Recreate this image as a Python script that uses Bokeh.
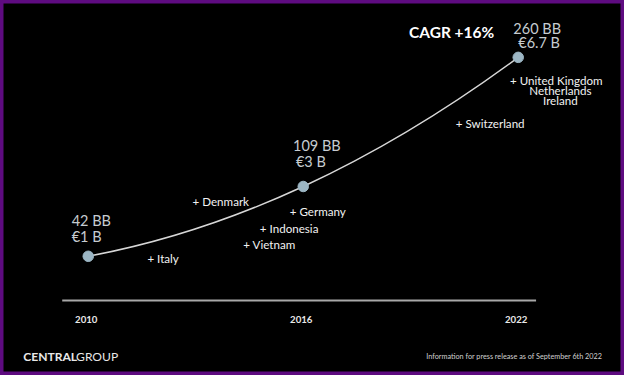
from bokeh.plotting import figure
from bokeh.models import Range1d, Label
from bokeh.core.properties import value
from bokeh.embed import file_html
from bokeh.resources import INLINE

# ---- data ----
years = [2010, 2016, 2022]
visitors_bb = [42, 109, 260]          # billion baht
revenue_eur_b = [1, 3, 6.7]           # euro billions
bb_labels = ["42 BB", "109 BB", "260 BB"]
eur_labels = ["€1 B", "€3 B", "€6.7 B"]
year_labels = ["2010", "2016", "2022"]
cagr_text = "CAGR +16%"
country_text = ["+ Italy", "+ Denmark", "+ Vietnam", "+ Indonesia", "+ Germany",
                "+ Switzerland", "+ United Kingdom", "Netherlands", "Ireland"]
brand_bold = "CENTRAL"
brand_light = "GROUP"
footnote = "Information for press release as of September 6th 2022"

# ---- layout: positions below are given in a 640x391 design grid ----
W, H = 624, 375
DW, DH = 640, 391
K = (W / DW + H / DH) / 2          # font scale
PX_PER_YEAR = 36.75                 # design px per year
X2010 = 90.0                        # design x of 2010
PX_PER_B = 36.39                    # design px per euro billion
Y1B = 266.7                         # design y of 1 B

x_start = 2010 - X2010 / PX_PER_YEAR
x_end = x_start + DW / PX_PER_YEAR
y_end = 1 + Y1B / PX_PER_B
y_start = y_end - DH / PX_PER_B


def X(px):
    return x_start + px / PX_PER_YEAR


def Y(py):
    return y_end - py / PX_PER_B


def fs(px):
    return f"{px * K:.2f}px"


p = figure(width=W, height=H, x_range=Range1d(x_start, x_end), y_range=Range1d(y_start, y_end),
           output_backend="svg", toolbar_location=None, min_border=0,
           x_axis_type=None, y_axis_type=None,
           background_fill_color="black", border_fill_color="black")
p.grid.visible = False
p.outline_line_color = "#5e0b80"
p.outline_line_width = 6

FONT = "Lato"

# smooth connector through the data points (Catmull-Rom style bezier)
P = list(zip(years, revenue_eur_b))
T1 = ((P[2][0] - P[0][0]) / 2, (P[2][1] - P[0][1]) / 2)
T0 = (2 * (P[1][0] - P[0][0]) - T1[0], 2 * (P[1][1] - P[0][1]) - T1[1])
T2 = (2 * (P[2][0] - P[1][0]) - T1[0], 2 * (P[2][1] - P[1][1]) - T1[1])
tang = [T0, T1, T2]
bx0, by0, bx1, by1, bcx0, bcy0, bcx1, bcy1 = [], [], [], [], [], [], [], []
for i in range(2):
    a, b = P[i], P[i + 1]
    ta, tb = tang[i], tang[i + 1]
    bx0.append(a[0]); by0.append(a[1]); bx1.append(b[0]); by1.append(b[1])
    bcx0.append(a[0] + ta[0] / 3); bcy0.append(a[1] + ta[1] / 3)
    bcx1.append(b[0] - tb[0] / 3); bcy1.append(b[1] - tb[1] / 3)
p.bezier(x0=bx0, y0=by0, x1=bx1, y1=by1, cx0=bcx0, cy0=bcy0, cx1=bcx1, cy1=bcy1,
         line_color="#d6d6d6", line_width=1.5)

p.scatter(years, revenue_eur_b, size=10.5, fill_color="#9cb6c4", line_color="#9cb6c4")

# baseline axis
p.segment(x0=[X(63.3)], y0=[Y(312.7)], x1=[X(549.3)], y1=[Y(312.7)], line_color="#a8a8a8", line_width=2)
p.text(x=years, y=[Y(332.3)] * 3, text=year_labels, text_align="center", text_baseline="alphabetic",
       text_font=value(FONT), text_font_style="bold", text_font_size=fs(10), text_color="#e8e8e8",
       x_offset=-2)


def lab(text, x, y, size, color, align="left", style="normal"):
    p.add_layout(Label(x=X(x), y=Y(y), text=text, text_font=FONT, text_font_size=fs(size),
                       text_color=color, text_align=align, text_baseline="alphabetic",
                       text_font_style=style))


GREY = "#c6ccd0"
WHITE = "#f2f2f2"
# value labels
bb_pos = [(73, 229.3), (300, 151.7), (526, 29)]
eur_pos = [(73, 246), (303, 168), (531, 44)]
for t, (x, y) in zip(bb_labels, bb_pos):
    lab(t, x, y, 15, GREY)
for t, (x, y) in zip(eur_labels, eur_pos):
    lab(t, x, y, 15, GREY)

lab(cagr_text, 419, 33, 16, "white", style="bold")

country_pos = [(150.7, 269.5, "left"), (197, 209.5, "left"), (249, 254.5, "left"),
               (266, 237.5, "left"), (296.7, 220.5, "left"), (467, 128, "left"),
               (570, 83, "center"), (574.2, 94, "center"), (574.2, 104.5, "center")]
for t, (x, y, a) in zip(country_text, country_pos):
    lab(t, x, y, 12, WHITE, align=a)

lab(brand_bold, 23.3, 371.7, 12.5, "#e8e8e8", style="bold")
lab(brand_light, 77.5, 371.7, 12.5, "#e8e8e8")
lab(footnote, 617.3, 371.7, 7.5, "#d0d0d0", align="right")

open("out.html", "w").write(file_html(p, INLINE))
